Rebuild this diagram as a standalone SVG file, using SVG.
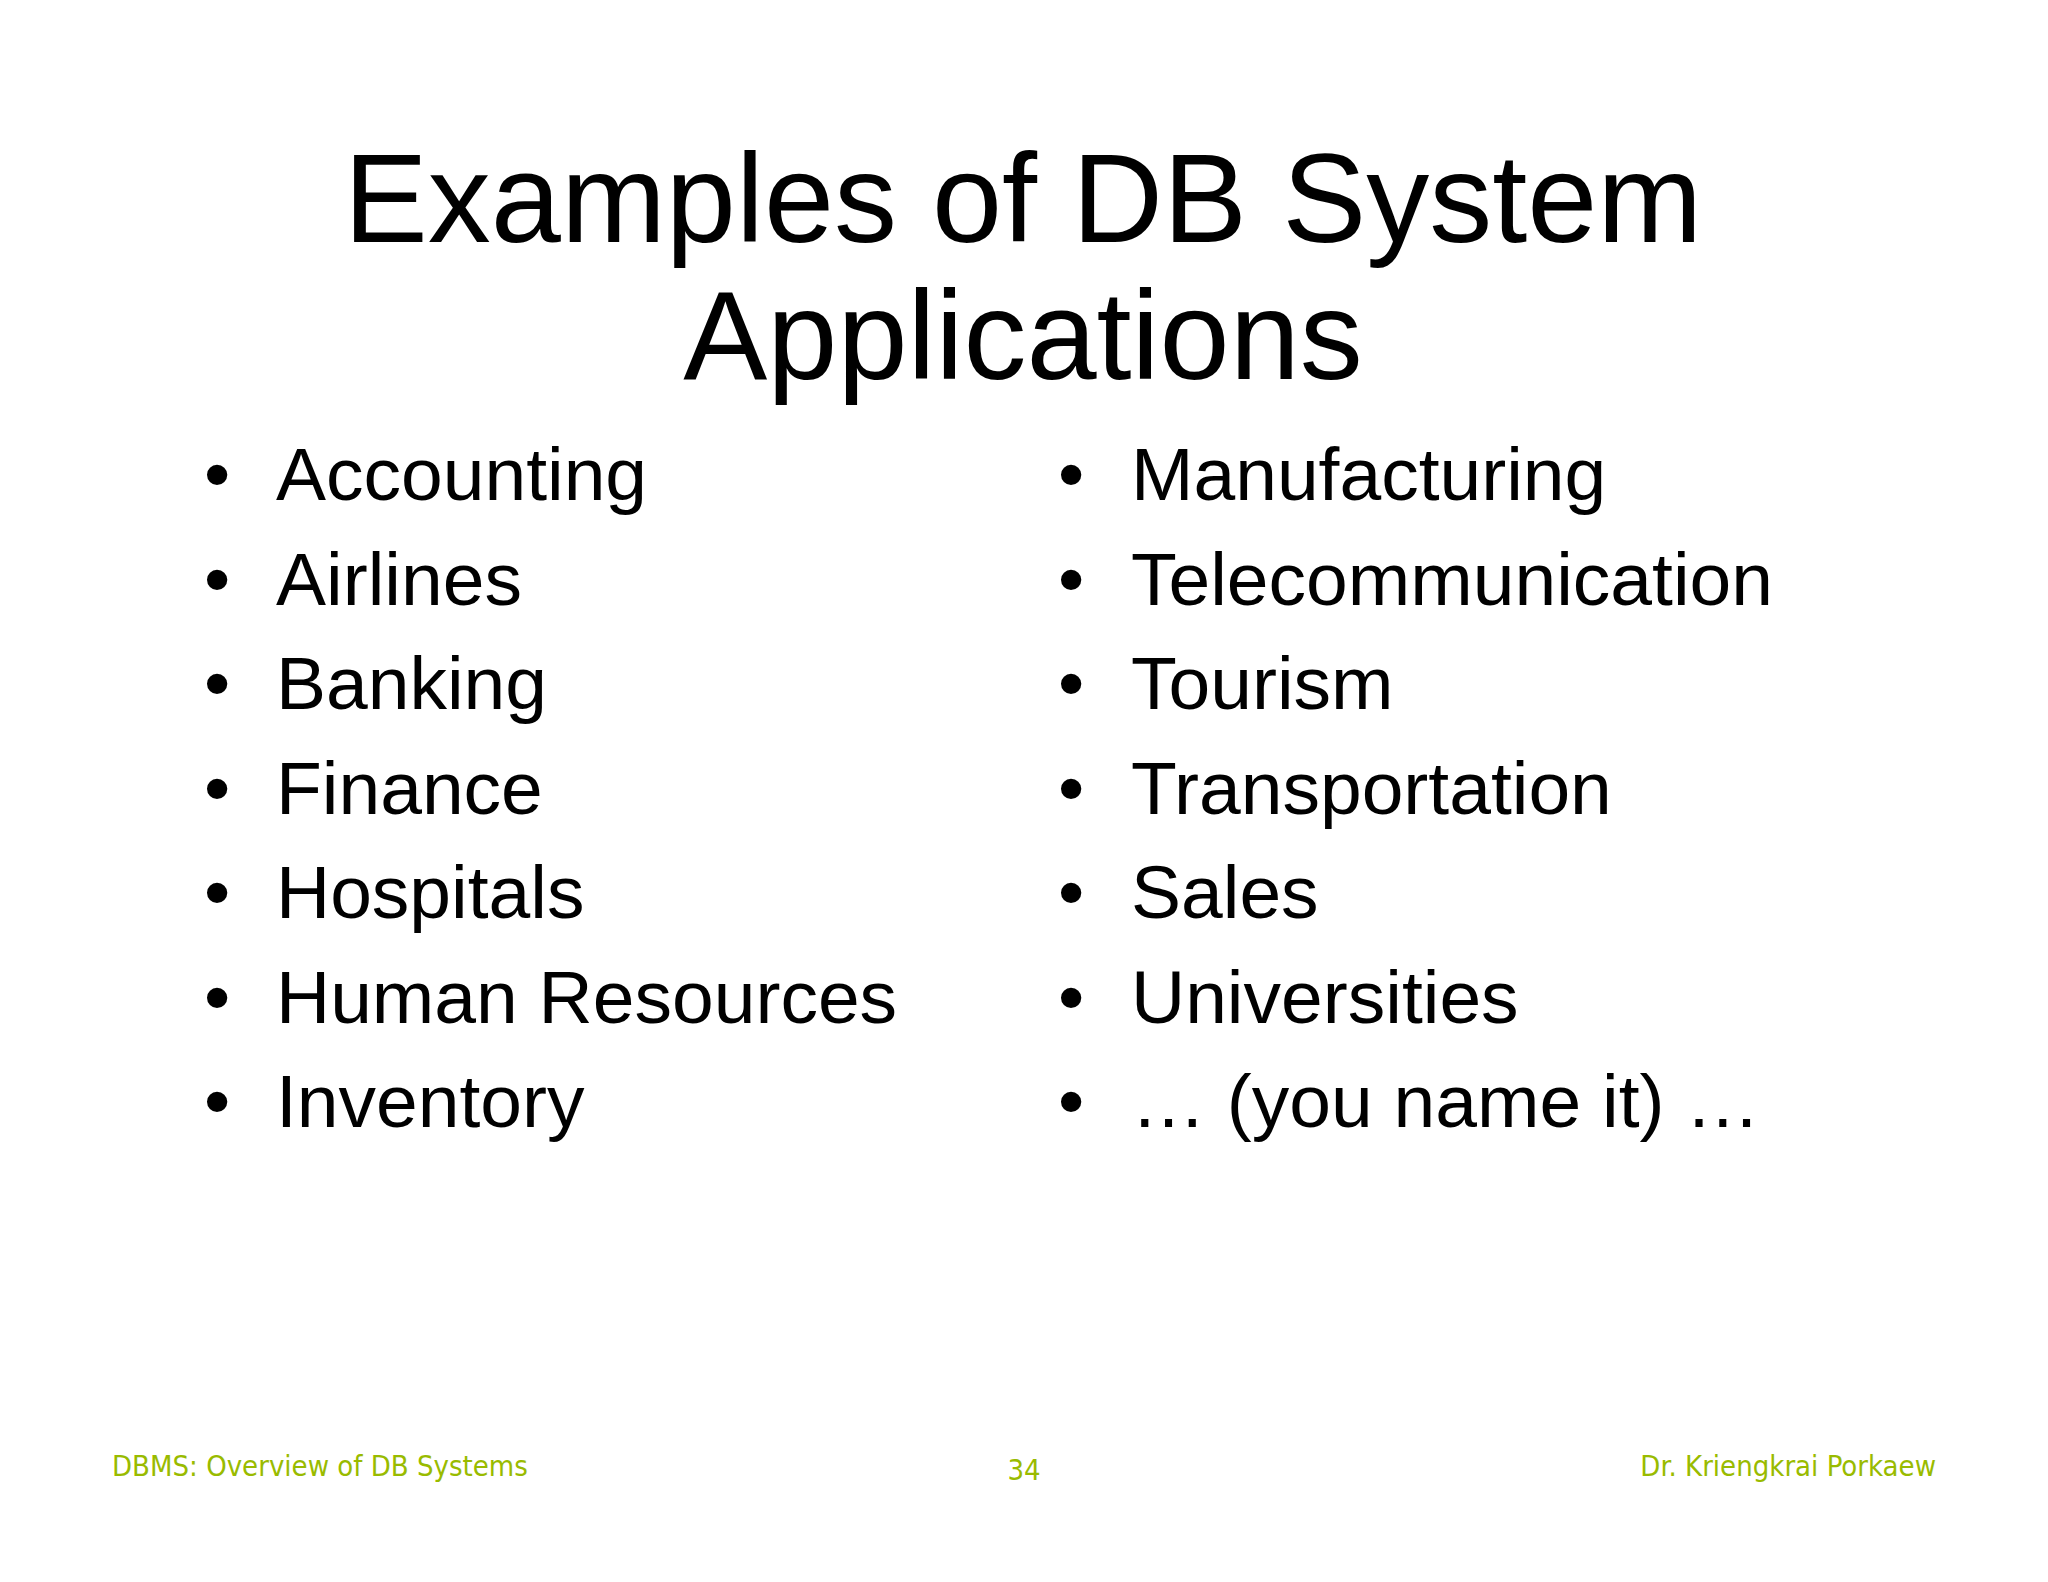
<svg xmlns="http://www.w3.org/2000/svg" width="2048" height="1582" viewBox="0 0 2048 1582">
<style>
.t{font-family:"Liberation Sans",Arial,sans-serif;fill:#000}
.b{font-family:"Liberation Sans",Arial,sans-serif;font-size:75px;fill:#000}
.f{font-family:"DejaVu Sans Condensed","DejaVu Sans",sans-serif;font-stretch:condensed;font-size:29px;fill:#99bb00}
</style>
<rect width="2048" height="1582" fill="#fff"/>
<g id="title"><text class="t" font-size="126" text-anchor="middle" x="1023" y="242">Examples of DB System</text>
<text class="t" font-size="126" text-anchor="middle" x="1023" y="379">Applications</text></g>
<g id="left">
<text class="b" x="204" y="500">•</text><text class="b" x="276" y="500">Accounting</text>
<text class="b" x="204" y="605">•</text><text class="b" x="276" y="605">Airlines</text>
<text class="b" x="204" y="709">•</text><text class="b" x="276" y="709">Banking</text>
<text class="b" x="204" y="814">•</text><text class="b" x="276" y="814">Finance</text>
<text class="b" x="204" y="918">•</text><text class="b" x="276" y="918">Hospitals</text>
<text class="b" x="204" y="1023">•</text><text class="b" x="276" y="1023">Human Resources</text>
<text class="b" x="204" y="1127">•</text><text class="b" x="276" y="1127">Inventory</text>
</g>
<g id="right">
<text class="b" x="1058" y="500">•</text><text class="b" x="1131" y="500">Manufacturing</text>
<text class="b" x="1058" y="605">•</text><text class="b" x="1131" y="605">Telecommunication</text>
<text class="b" x="1058" y="709">•</text><text class="b" x="1131" y="709">Tourism</text>
<text class="b" x="1058" y="814">•</text><text class="b" x="1131" y="814">Transportation</text>
<text class="b" x="1058" y="918">•</text><text class="b" x="1131" y="918">Sales</text>
<text class="b" x="1058" y="1023">•</text><text class="b" x="1131" y="1023">Universities</text>
<text class="b" x="1058" y="1127">•</text><text class="b" x="1131" y="1127">… (you name it) …</text>
</g>
<g id="footer">
<text class="f" x="112" y="1476">DBMS: Overview of DB Systems</text>
<text class="f" x="1024" y="1480" text-anchor="middle">34</text>
<text class="f" x="1936" y="1476" text-anchor="end">Dr. Kriengkrai Porkaew</text>
</g>
</svg>
